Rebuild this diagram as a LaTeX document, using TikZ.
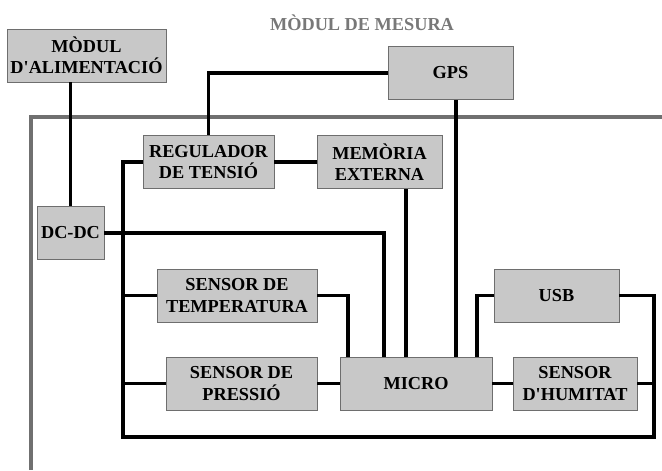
\documentclass[tikz,border=0pt]{standalone}
\usepackage{fontspec}
\setmainfont{Liberation Serif}
\usetikzlibrary{calc}
\definecolor{boxgray}{RGB}{200,200,200}
\definecolor{edgegray}{RGB}{110,110,110}
\definecolor{casegray}{RGB}{112,112,112}
\definecolor{titlegray}{RGB}{120,120,120}

\begin{document}
\begin{tikzpicture}[x=0.025cm, y=-0.025cm,
    box/.style={draw=edgegray, fill=boxgray, line width=0.6pt, minimum height=1.325cm, inner sep=0pt, align=center, font=\fontsize{13}{15}\selectfont\bfseries},
    wire/.style={line width=2.6pt, black},
    casing/.style={line width=2.8pt, casegray}]
    \useasboundingbox (0,0) rectangle (662,470);

    \draw [casing] (31,470) |- (662,117);
    \node [font=\fontsize{13}{15}\selectfont\bfseries, text=titlegray] (title) at (362,23) {MÒDUL DE MESURA};

    \node [box, minimum width=3.975cm] (alim) at (86.5,55.5) {MÒDUL\\D\textquotesingle ALIMENTACIÓ};
    \node [box, minimum width=3.125cm] (gps) at (450.5,73) {GPS};
    \node [box, minimum width=3.275cm] (reg) at (208.5,162) {REGULADOR\\DE TENSIÓ};
    \node [box, minimum width=3.125cm] (mem) at (379.5,162) {MEMÒRIA\\EXTERNA};
    \node [box, minimum width=1.675cm] (dc) at (70.5,233) {DC-DC};
    \node [box, minimum width=4.0cm] (temp) at (237,295.5) {SENSOR DE\\TEMPERATURA};
    \node [box, minimum width=3.125cm] (usb) at (556.5,295.5) {USB};
    \node [box, minimum width=3.775cm] (pres) at (241.5,383.5) {SENSOR DE\\PRESSIÓ};
    \node [box, minimum width=3.8cm] (micro) at (416,383.5) {MICRO};
    \node [box, minimum width=3.1cm] (hum) at (575,383.5) {SENSOR\\D\textquotesingle HUMITAT};

    \coordinate (bl) at (123,437);
    \coordinate (br) at (654,437);
    \coordinate (m1) at ($(micro.north)+(-68,0)$);
    \coordinate (m2) at ($(micro.north)+(-32,0)$);
    \coordinate (m3) at ($(micro.north)+(-10,0)$);
    \coordinate (m4) at ($(micro.north)+(40,0)$);
    \coordinate (m5) at ($(micro.north)+(61,0)$);

    \draw [wire] (dc.north) -- (dc.north |- alim.south);
    \draw [wire] (gps.west) -| (reg.north);
    \draw [wire] (reg.east) -- (mem.west);
    \draw [wire] (reg.west) -| (bl) -- (br) |- (usb.east);
    \draw [wire] (temp.west) -- (temp.west -| bl);
    \draw [wire] (pres.west) -- (pres.west -| bl);
    \draw [wire] (hum.east) -- (hum.east -| br);
    \draw [wire] (pres.east) -- (micro.west);
    \draw [wire] (micro.east) -- (hum.west);
    \draw [wire] (temp.east) -| (m1);
    \draw [wire] (dc.east) -| (m2);
    \draw [wire] (m3) -- (m3 |- mem.south);
    \draw [wire] (m4) -- (m4 |- gps.south);
    \draw [wire] (usb.west) -| (m5);
\end{tikzpicture}
\end{document}
